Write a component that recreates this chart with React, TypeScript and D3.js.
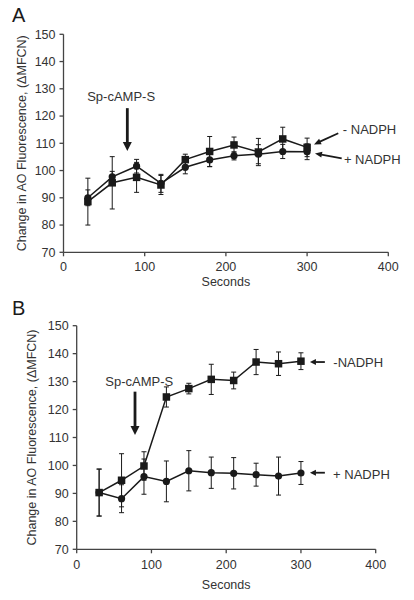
import React from "react";
import * as d3 from "d3";

const seconds = [30, 60, 90, 120, 150, 180, 210, 240, 270, 300];

const aMinusNadph = [88.6, 95.5, 97.5, 94.7, 104.0, 107.0, 109.4, 106.8, 111.6, 108.5];
const aMinusErr = [8.6, 9.6, 5.5, 3.5, 2.0, 5.5, 2.9, 5.0, 4.3, 3.4];
const aPlusNadph = [90.0, 97.7, 101.6, 95.3, 101.2, 103.9, 105.4, 106.0, 107.0, 106.9];
const aPlusErr = [2.9, 2.0, 2.5, 3.3, 2.4, 2.5, 1.5, 3.5, 2.6, 2.9];

const bMinusNadph = [90.3, 94.7, 99.8, 124.5, 127.5, 130.8, 130.4, 137.0, 136.4, 137.3];
const bMinusErr = [8.4, 9.5, 5.1, 3.6, 1.9, 5.4, 3.0, 4.5, 4.2, 3.0];
const bPlusNadph = [90.3, 88.1, 96.0, 94.3, 98.1, 97.4, 97.2, 96.7, 96.2, 97.3];
const bPlusErr = [8.4, 5.0, 6.3, 7.3, 7.2, 5.6, 5.6, 4.1, 6.8, 4.1];

const xTicks = [0, 100, 200, 300, 400];
const yTicks = [70, 80, 90, 100, 110, 120, 130, 140, 150];

const FONT = "'Liberation Sans', Arial, Helvetica, sans-serif";
const INK = "#1a1a1a";
const TXT = "#333";

type Ann = {
  spText: [number, number];
  spArrow: [number, number, number];
  minusText: [number, number, string];
  minusArrow: [number, number, number, number];
  plusText: [number, number, string];
  plusArrow: [number, number, number, number];
};

type PanelProps = {
  label: string;
  x0: number; x1: number; yTop: number; yBot: number;
  minus: number[]; minusErr: number[]; plus: number[]; plusErr: number[];
  ann: Ann;
  tickLabelDy: number; xLabelDy: number; yLabelX: number;
  labelPos: [number, number];
  headLen: number;
};

function Arrow({ x1, y1, x2, y2, w, headLen, headW }: any) {
  const dx = x2 - x1, dy = y2 - y1;
  const L = Math.hypot(dx, dy);
  const ux = dx / L, uy = dy / L;
  const bx = x2 - ux * headLen, by = y2 - uy * headLen;
  const px = -uy * headW / 2, py = ux * headW / 2;
  return (
    <g>
      <line x1={x1} y1={y1} x2={bx + ux * 0.5} y2={by + uy * 0.5} stroke={INK} strokeWidth={w} />
      <polygon points={`${x2},${y2} ${bx + px},${by + py} ${bx - px},${by - py}`} fill={INK} />
    </g>
  );
}

function Panel(p: PanelProps) {
  const x = d3.scaleLinear().domain([0, 400]).range([p.x0, p.x1]);
  const y = d3.scaleLinear().domain([70, 150]).range([p.yBot, p.yTop]);
  const line = d3.line<number>().x((_, i) => x(seconds[i])).y((d) => y(d));
  const cap = 2.5;
  const errBars = (vals: number[], errs: number[]) =>
    vals.map((v, i) => {
      const cx = x(seconds[i]);
      const t = y(v + errs[i]), b = y(v - errs[i]);
      return (
        <g key={i} stroke={INK} strokeWidth={1}>
          <line x1={cx} x2={cx} y1={t} y2={b} />
          <line x1={cx - cap} x2={cx + cap} y1={t} y2={t} />
          <line x1={cx - cap} x2={cx + cap} y1={b} y2={b} />
        </g>
      );
    });
  const a = p.ann;
  return (
    <g fontFamily={FONT}>
      <text x={p.labelPos[0]} y={p.labelPos[1]} fontSize={20} fill={INK}>{p.label}</text>
      {/* axes */}
      <g stroke="#444" strokeWidth={1.3} fill="none">
        <line x1={p.x0} x2={p.x0} y1={p.yTop} y2={p.yBot} />
        <line x1={p.x0} x2={p.x1} y1={p.yBot} y2={p.yBot} />
        {yTicks.map((t) => (
          <line key={"yt" + t} x1={p.x0 - 4} x2={p.x0} y1={y(t)} y2={y(t)} />
        ))}
        {xTicks.map((t) => (
          <line key={"xt" + t} x1={x(t)} x2={x(t)} y1={p.yBot} y2={p.yBot + 4} />
        ))}
      </g>
      <g fontSize={12.5} fill={TXT}>
        {yTicks.map((t) => (
          <text key={"yl" + t} x={p.x0 - 8} y={y(t)} dy="0.35em" textAnchor="end">{t}</text>
        ))}
        {xTicks.map((t) => (
          <text key={"xl" + t} x={x(t)} y={p.yBot + p.tickLabelDy} textAnchor="middle">{t}</text>
        ))}
        <text x={(p.x0 + p.x1) / 2} y={p.yBot + p.xLabelDy} textAnchor="middle">Seconds</text>
        <text
          transform={`translate(${p.yLabelX},${(p.yTop + p.yBot) / 2}) rotate(-90)`}
          textAnchor="middle"
        >
          Change in AO Fluorescence, (ΔMFCN)
        </text>
      </g>
      {/* error bars */}
      {errBars(p.plus, p.plusErr)}
      {errBars(p.minus, p.minusErr)}
      {/* lines */}
      <path d={line(p.plus) || ""} fill="none" stroke={INK} strokeWidth={1.5} />
      <path d={line(p.minus) || ""} fill="none" stroke={INK} strokeWidth={1.5} />
      {/* markers */}
      {p.plus.map((v, i) => (
        <circle key={"c" + i} cx={x(seconds[i])} cy={y(v)} r={3.6} fill={INK} />
      ))}
      {p.minus.map((v, i) => (
        <rect key={"s" + i} x={x(seconds[i]) - 3.75} y={y(v) - 3.75} width={7.5} height={7.5} fill={INK} />
      ))}
      {/* annotations */}
      <g fontSize={13} fill={TXT}>
        <text x={x(a.spText[0])} y={y(a.spText[1])} textAnchor="middle">Sp-cAMP-S</text>
        <text x={x(a.minusText[0])} y={y(a.minusText[1])}>{a.minusText[2]}</text>
        <text x={x(a.plusText[0])} y={y(a.plusText[1])}>{a.plusText[2]}</text>
      </g>
      <Arrow x1={x(a.spArrow[0])} y1={y(a.spArrow[1])} x2={x(a.spArrow[0])} y2={y(a.spArrow[2])}
        w={2.8} headLen={9} headW={9} />
      <Arrow x1={x(a.minusArrow[0])} y1={y(a.minusArrow[1])} x2={x(a.minusArrow[2])} y2={y(a.minusArrow[3])}
        w={1.8} headLen={p.headLen} headW={6} />
      <Arrow x1={x(a.plusArrow[0])} y1={y(a.plusArrow[1])} x2={x(a.plusArrow[2])} y2={y(a.plusArrow[3])}
        w={1.8} headLen={p.headLen} headW={6} />
    </g>
  );
}

const annA: Ann = {
  spText: [71, 125.5],
  spArrow: [78.6, 122.9, 107.2],
  minusText: [344, 113.3, "- NADPH"],
  minusArrow: [338.4, 113.7, 308.5, 109.6],
  plusText: [345.3, 102.4, "+ NADPH"],
  plusArrow: [342.6, 104.5, 309.7, 106.3],
};

const annB: Ann = {
  spText: [83.6, 128.4],
  spArrow: [78, 126.4, 110.9],
  minusText: [343.3, 135.3, "-NADPH"],
  minusArrow: [332, 137.0, 312, 137.0],
  plusText: [343, 95.0, "+ NADPH"],
  plusArrow: [332, 97.4, 312, 97.4],
};

export default function App() {
  return (
    <svg
      width={414}
      height={600}
      style={{ position: "absolute", left: 0, top: 0, background: "#fff" }}
    >
      <rect width={414} height={600} fill="#fff" />
      <Panel
        label="A" x0={63.5} x1={388.3} yTop={34.3} yBot={252.3}
        minus={aMinusNadph} minusErr={aMinusErr} plus={aPlusNadph} plusErr={aPlusErr}
        ann={annA} tickLabelDy={18.4} xLabelDy={34} yLabelX={25.5}
        labelPos={[12, 22]} headLen={7}
      />
      <Panel
        label="B" x0={76.7} x1={375.7} yTop={325.7} yBot={549.3}
        minus={bMinusNadph} minusErr={bMinusErr} plus={bPlusNadph} plusErr={bPlusErr}
        ann={annB} tickLabelDy={20} xLabelDy={39.5} yLabelX={35.5}
        labelPos={[12, 315]} headLen={6}
      />
    </svg>
  );
}
